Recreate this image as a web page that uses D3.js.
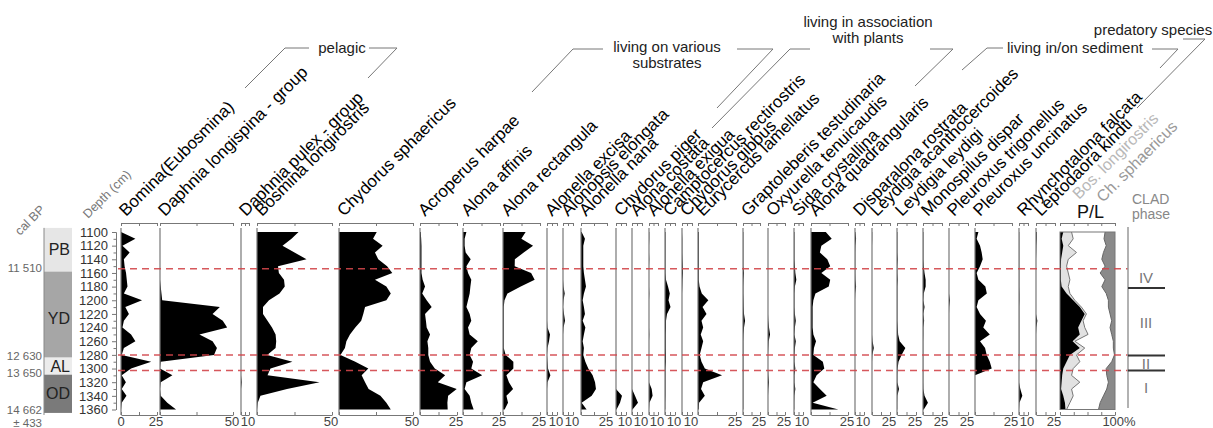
<!DOCTYPE html>
<html>
<head>
<meta charset="utf-8">
<script src="https://cdn.jsdelivr.net/npm/d3@7"></script>
<style>
  body { margin: 0; background: #fff; }
  svg { display: block; font-family: "Liberation Sans", Arial, sans-serif; }
</style>
</head>
<body>
<svg id="chart" width="1213" height="428"></svg>
<script>
// sample depths (cm)
var depths = d3.range(1100, 1361, 10);

var taxa = ['Bomina(Eubosmina)', 'Daphnia longispina - group', 'Daphnia pulex - group', 'Bosmina longirostris',
  'Chydorus sphaericus', 'Acroperus harpae', 'Alona affinis', 'Alona rectangula', 'Alonella excisa',
  'Alonopsis elongata', 'Alonella nana', 'Chydorus piger', 'Alona costata', 'Alonella exigua',
  'Camptocercus rectirostris', 'Chydorus gibbus', 'Eurycercus lamellatus', 'Graptoleberis testudinaria',
  'Oxyurella tenuicaudis', 'Sida crystallina', 'Alona quadrangularis', 'Disparalona rostrata',
  'Leydigia acanthocercoides', 'Leydigia leydigi', 'Monospilus dispar', 'Pleuroxus trigonellus',
  'Pleuroxus uncinatus', 'Rhynchotalona falcata', 'Leptodaora kindti'];

// end value of each panel's axis (%)
var axisMax = [25, 50, 10, 50, 50, 25, 25, 25, 10, 10, 25, 10, 10, 10, 10, 10, 25, 25, 25, 10, 25, 10, 25, 25, 25, 25, 25, 10, 25];

// percentages per depth
var bomina = [0, 10, 1, 6, 2, 2.5, 3.5, 4, 4.5, 2, 14.6, 3, 5.5, 2, 1, 7, 10, 2, 0.5, 21, 7, 0.5, 3.4, 0.5, 3.8, 0.5, 0];
var daphniaLongispina = [0, 0, 0, 0, 0, 0, 0, 0, 0.5, 1, 1.5, 41, 36, 43, 46, 27, 36, 39, 37, 0.5, 0, 8.5, 0.5, 0, 0.5, 5, 11];
var daphniaPulex = [0, 0, 0, 0, 0, 0, 0, 0, 0, 0, 0, 0, 0, 0, 0, 0, 0, 0, 0, 0, 0, 0, 1, 0, 0, 0, 0];
var bosmina = [27.7, 23, 17, 25, 33, 14, 14.6, 18, 18.5, 15, 8, 4, 4, 7, 10, 12.4, 12.8, 12.4, 6.8, 23.6, 9, 7, 41.7, 20, 2.3, 0.5, 0];
var chydorus = [25.5, 23, 29.5, 24.3, 26.5, 32.5, 36, 24.3, 32, 35, 32, 17.6, 16.4, 15, 11, 7.4, 5, 4, 1, 11, 19.8, 15.3, 17.6, 20, 28, 32, 35];
var acroperus = [0.5, 0.8, 1, 1, 1, 1, 1, 1.8, 3.4, 1.5, 4.5, 7.9, 3.4, 4, 4.5, 6.8, 5, 5.6, 5.6, 6.8, 10, 17, 12, 24.8, 19, 18.5, 18.7];
var alonaAffinis = [2.3, 1.1, 1.1, 1.8, 5.2, 2.3, 3.4, 5.6, 5, 4.5, 3.4, 2.3, 4.5, 5.6, 3.4, 4.5, 10, 5.6, 4.5, 6.8, 5.6, 13, 2.3, 1.1, 4.5, 5.6, 7.2];
var alonaRectangula = [15.3, 12.4, 20.3, 14, 8, 7.9, 19, 21.4, 12, 3, 1, 0.5, 0.5, 0.5, 0.5, 0.5, 0.5, 0.5, 1.8, 7, 7, 2.3, 4, 6.8, 2.3, 3.4, 1.1];
var alonellaExcisa = [0, 0, 0, 0, 0, 0, 0, 0, 0, 0, 0, 0, 0, 0, 0.5, 3, 2, 0.5, 0, 0.5, 1, 3.4, 0.5, 0, 0, 0, 0];
var alonopsis = [0, 0, 0, 0, 0, 0, 0, 0, 0.5, 1.7, 0.5, 0, 1, 2, 0.5, 0, 0, 0, 0, 0, 0, 0, 0, 0, 0, 0, 0];
var alonellaNana = [0.6, 3.8, 2.2, 2.2, 2.2, 2.2, 2.8, 3.8, 4.8, 2.8, 1.6, 2.8, 3.8, 1.6, 4.2, 2.8, 1.6, 2.8, 2.2, 4.2, 7, 11.2, 13.5, 14.4, 10.3, 0.6, 5.4];
var chydorusPiger = [0, 0, 0, 0, 0, 0, 0, 0, 0, 0, 0, 0, 0, 0, 0, 0, 0, 0, 0, 0, 0, 0, 0, 0, 6, 4, 0.5];
var alonaCostata = [0, 0, 0, 0, 0, 0, 0, 0, 0, 0, 0, 0, 0, 0, 0, 0, 0, 0, 0, 0, 0, 0, 0, 0, 3, 6, 0.5];
var alonellaExigua = [0.3, 0.3, 0, 0, 0.3, 0, 0, 0, 0, 0.3, 0, 0, 0, 0, 0, 0.3, 0, 0, 0, 0, 0, 0, 0, 3, 4, 0.5, 0];
var camptocercus = [0.5, 0.5, 0.5, 0.5, 0.5, 0.5, 0.5, 1, 3, 4.8, 3.5, 5.5, 2, 1, 1, 0.8, 0.8, 0.8, 1, 1, 0.5, 0.5, 0.5, 0.5, 0.5, 0.3, 0.3];
var chydorusGibbus = [0, 0.3, 0.3, 0.3, 0.5, 0.8, 1, 0.5, 0.3, 0, 0, 0, 0, 0, 0, 0, 0, 0, 0, 0, 0, 0, 0, 0, 0, 0, 0];
var eurycercus = [0.5, 0.5, 0.5, 0.5, 0.5, 0.5, 0.5, 0.5, 1, 2.5, 6.8, 3, 5.6, 2.3, 3.4, 1.8, 3.4, 2.3, 1.1, 2.3, 4.5, 15.8, 3.4, 2, 4.5, 0.7, 0.5];
var graptoleberis = [0.5, 0.5, 0.5, 0.5, 0.5, 0.5, 1.5, 0.8, 0.5, 0.5, 0.8, 1, 1.5, 3, 1.5, 0.8, 0.5, 0.5, 0.5, 0.5, 0.5, 0.5, 0.5, 0.5, 0.5, 0.5, 0.5];
var oxyurella = [0, 0, 0, 0, 0, 0, 0, 0, 0, 0, 0, 0, 0, 0.5, 1.5, 3, 1, 0.5, 0, 0, 0, 0.5, 1.5, 0.5, 0, 0, 0];
var sida = [0.5, 0.5, 0.5, 0.5, 0.5, 1, 1.5, 2.6, 1, 0.5, 0.5, 0.5, 1, 2, 1, 0.5, 2, 1, 0.5, 0.5, 1.5, 0.5, 0.5, 1.5, 0.5, 0.3, 0.3];
var alonaQuadrangularis = [10, 14, 7, 6, 11, 13, 7, 13, 12, 3, 1.6, 1.1, 1.1, 1.1, 1.1, 1.6, 3.4, 2, 1.6, 8, 9, 3.8, 1.6, 6, 10.6, 1.1, 18.5];
var disparalona = [0.5, 1.2, 0.5, 0.3, 0.3, 0.3, 0.3, 0.5, 1.2, 0.3, 0, 0, 0, 0, 0, 0, 0, 0, 0, 0, 0, 0, 0, 0, 0, 0, 0];
var leydigiaAcanth = [0.3, 0.3, 0, 0, 0, 0, 0, 0, 0, 0, 0, 0, 0, 0, 0, 0, 0.8, 2.5, 0.5, 0, 0, 0, 0, 0, 0, 0, 0];
var leydigiaLeydigi = [0.5, 0.5, 0.5, 0.5, 1, 0.5, 0.5, 1, 0.5, 0.5, 0.5, 0.5, 0.5, 0.5, 1, 1.5, 3.5, 11, 6, 2, 0.8, 0.5, 0.5, 2.6, 0.5, 0.3, 0.3];
var monospilus = [0.5, 0.5, 0.5, 0.5, 0.5, 1, 2, 3.5, 3.5, 1, 0.5, 2, 0.5, 1.5, 0.5, 0.5, 0.3, 0.3, 0.3, 0.3, 0.3, 0.3, 0.3, 0.5, 2, 6.5, 1];
var pleuroxusTrig = [0, 0, 0, 0, 0, 0, 0, 0, 0, 0, 1.3, 0.3, 0, 0, 0, 0, 0, 0, 0, 0, 0, 0, 0, 0, 0, 0, 0];
var pleuroxusUnc = [2.3, 1.1, 3.4, 4.5, 5.2, 3.4, 1.1, 2.3, 7, 8, 2.3, 1.1, 3.4, 7.4, 5.6, 10, 3.4, 6.8, 7.9, 10, 11.3, 0, 0, 0, 0, 0, 0];
var rhynchotalona = [0.3, 0.3, 0.3, 0.3, 0.3, 0.3, 0.3, 0.3, 0.3, 0.5, 0.5, 0.3, 0.3, 0.3, 0.3, 0.3, 0.3, 0.3, 0.3, 0, 0, 0, 0, 1.5, 3.7, 0.5, 0];
var leptodaora = [1, 1, 0.5, 0.3, 0, 0, 0, 0, 0, 0, 0, 0, 0, 1.8, 0.5, 0, 0, 0, 0, 0, 0, 0, 0, 0, 0, 0, 0];

var series = [bomina, daphniaLongispina, daphniaPulex, bosmina, chydorus, acroperus, alonaAffinis,
  alonaRectangula, alonellaExcisa, alonopsis, alonellaNana, chydorusPiger, alonaCostata, alonellaExigua,
  camptocercus, chydorusGibbus, eurycercus, graptoleberis, oxyurella, sida, alonaQuadrangularis,
  disparalona, leydigiaAcanth, leydigiaLeydigi, monospilus, pleuroxusTrig, pleuroxusUnc, rhynchotalona, leptodaora];

// P/L summary (%): pelagic (black), Bos. longirostris (light grey), Ch. sphaericus (dark grey, from right)
var plPelagic = [6, 3, 6, 4, 2, 1.5, 1.5, 1.5, 3, 12, 24, 36, 45, 39, 33, 36, 23, 36, 18, 12, 6, 4, 3, 2, 6, 9, 10];
var plBosmina = [15, 21, 9, 26, 13, 10.5, 13.5, 16.5, 12, 6, 3, 3, 3, 3, 12, 15, 4, 9, 12, 24, 18, 17, 33, 19, 18, 9, 2];
var plChydorus = [18, 20, 16, 21, 24, 18, 27, 18, 24, 16, 12, 12, 9, 6, 9, 6, 3, 3, 1, 6, 16, 15, 12, 15, 21, 27, 30];

// lithozones (depth cm)
var zoneNames = ['PB', 'YD', 'AL', 'OD'];
var zoneTop = [1094, 1158, 1284, 1309];
var zoneBottom = [1158, 1284, 1309, 1365];
var zoneFill = ['#e6e6e6', '#a6a6a6', '#ececec', '#7a7a7a'];
var calAges = ['11 510', '12 630', '13 650', '14 662'];
var calDepths = [1153, 1281, 1307, 1360];
var boundaryDepths = [1154, 1280, 1303];
var cladBounds = [1182, 1281, 1303];
var cladNames = ['IV', 'III', 'II', 'I'];
var cladDepths = [1166, 1233, 1292, 1328];

// layout of the panels (baseline x and width in px)
var panelX = [121, 160, 241, 257, 339, 420, 463, 503, 547, 563, 581, 616, 632, 649, 665, 682, 698, 743, 768, 794, 811, 855, 872, 897, 923, 949, 975, 1019, 1036];
var panelW = [36, 73, 8, 75, 74, 37, 37, 37, 10, 10, 26, 10, 10, 9, 10, 10, 38, 17, 17, 9, 37, 9, 18, 19, 19, 19, 37, 9, 19];

var svg = d3.select('#chart');
var y = d3.scaleLinear().domain([1100, 1360]).range([232, 409.5]);
var axisTopY = 223, axisBottomY = 415;

function greyAxis(sel) {
  sel.selectAll('path, line').attr('stroke', '#777').attr('stroke-width', 1);
}

// lithology column
var litho = svg.append('g');
zoneNames.forEach(function (z, i) {
  litho.append('rect')
      .attr('x', 44).attr('width', 28)
      .attr('y', y(zoneTop[i])).attr('height', y(zoneBottom[i]) - y(zoneTop[i]))
      .attr('fill', zoneFill[i]);
  litho.append('text')
      .attr('x', 70).attr('y', y((zoneTop[i] + zoneBottom[i]) / 2) + (z === 'YD' ? 4 : 0))
      .attr('text-anchor', 'end').attr('dominant-baseline', 'central')
      .attr('font-size', 16).attr('fill', '#222').text(z);
});
litho.append('line').attr('x1', 44).attr('x2', 44).attr('y1', y(1094)).attr('y2', axisBottomY)
    .attr('stroke', '#888');
calAges.forEach(function (c, i) {
  litho.append('text').attr('x', 42).attr('y', y(calDepths[i]))
      .attr('text-anchor', 'end').attr('dominant-baseline', 'central')
      .attr('font-size', 11.5).attr('fill', '#666').text(c);
});
litho.append('text').attr('x', 42).attr('y', y(calDepths[3]) + 13)
    .attr('text-anchor', 'end').attr('dominant-baseline', 'central')
    .attr('font-size', 11.5).attr('fill', '#666').text('± 433');
svg.append('text').attr('transform', 'translate(20,236) rotate(-45)')
    .attr('font-size', 12.5).attr('fill', '#777').text('cal BP');
svg.append('text').attr('transform', 'translate(88,219) rotate(-45)')
    .attr('font-size', 12.5).attr('fill', '#777').text('Depth (cm)');

// depth axis
var depthAxis = svg.append('g').attr('transform', 'translate(116,0)')
    .call(d3.axisLeft(y).tickValues(d3.range(1100, 1361, 20)).tickSize(4).tickSizeOuter(0).tickPadding(4).tickFormat(d3.format('d')));
depthAxis.call(greyAxis);
depthAxis.selectAll('text').attr('font-size', 13).attr('fill', '#333')
    .attr('font-family', '"Liberation Sans", Arial, sans-serif');
svg.append('g').attr('transform', 'translate(116,0)')
    .call(d3.axisLeft(y).tickValues(d3.range(1110, 1361, 20)).tickSize(2.5).tickSizeOuter(0).tickFormat(''))
    .call(greyAxis);

// taxon panels
series.forEach(function (vals, i) {
  var x = d3.scaleLinear().domain([0, axisMax[i]]).range([panelX[i], panelX[i] + panelW[i]]);
  var g = svg.append('g').attr('class', 'panel');
  var pts = depths.map(function (d, j) { return {depth: d, v: vals[j]}; });
  g.append('path').datum(pts)
      .attr('d', d3.area()
        .y(function (p) { return y(p.depth); })
        .x0(x(0))
        .x1(function (p) { return x(p.v); }))
      .attr('fill', '#000');
  g.append('line')
      .attr('x1', x(0)).attr('x2', x(0)).attr('y1', 228).attr('y2', axisBottomY)
      .attr('stroke', '#777').attr('stroke-width', 1.2);
  var ticks = [0, axisMax[i] / 2, axisMax[i]];
  g.append('g').attr('transform', 'translate(0,' + axisTopY + ')')
      .call(d3.axisBottom(x).tickValues(ticks).tickSize(3).tickSizeOuter(0).tickFormat(''))
      .call(greyAxis);
  g.append('g').attr('transform', 'translate(0,' + axisBottomY + ')')
      .call(d3.axisTop(x).tickValues(ticks).tickSize(3).tickSizeOuter(0).tickFormat(''))
      .call(greyAxis);
  g.append('text').attr('x', x(axisMax[i]) - 1).attr('y', 426)
      .attr('text-anchor', 'middle').attr('font-size', 13).attr('fill', '#444')
      .text(axisMax[i]);
  if (i === 0) {
    g.append('text').attr('x', x(0)).attr('y', 426)
        .attr('text-anchor', 'middle').attr('font-size', 13).attr('fill', '#444').text('0');
  }
  g.append('text')
      .attr('transform', 'translate(' + (x(0) + 5) + ',217) rotate(-45)')
      .attr('font-size', 17).attr('fill', '#000')
      .text(taxa[i]);
});

// P/L cumulative panel
var xp = d3.scaleLinear().domain([0, 100]).range([1060, 1115]);
var pl = depths.map(function (d, j) {
  return {depth: d, pel: plPelagic[j], bos: plPelagic[j] + plBosmina[j], ch: 100 - plChydorus[j]};
});
var plg = svg.append('g');
plg.append('path').datum(pl)
    .attr('d', d3.area().y(function (p) { return y(p.depth); })
      .x0(function (p) { return xp(p.pel); }).x1(function (p) { return xp(p.bos); }))
    .attr('fill', '#e2e2e2');
plg.append('path').datum(pl)
    .attr('d', d3.area().y(function (p) { return y(p.depth); })
      .x0(xp(0)).x1(function (p) { return xp(p.pel); }))
    .attr('fill', '#000');
plg.append('path').datum(pl)
    .attr('d', d3.area().y(function (p) { return y(p.depth); })
      .x0(function (p) { return xp(p.ch); }).x1(xp(100)))
    .attr('fill', '#8a8a8a');
plg.append('path').datum(pl)
    .attr('d', d3.line().y(function (p) { return y(p.depth); }).x(function (p) { return xp(p.bos); }))
    .attr('fill', 'none').attr('stroke', '#777').attr('stroke-width', 1);
plg.append('path').datum(pl)
    .attr('d', d3.line().y(function (p) { return y(p.depth); }).x(function (p) { return xp(p.ch); }))
    .attr('fill', 'none').attr('stroke', '#666').attr('stroke-width', 1);
plg.append('rect').attr('x', xp(0)).attr('y', y(1100)).attr('width', xp(100) - xp(0))
    .attr('height', y(1360) - y(1100)).attr('fill', 'none').attr('stroke', '#777');
plg.append('g').attr('transform', 'translate(0,' + axisTopY + ')')
    .call(d3.axisBottom(xp).tickValues([0, 25, 50, 75, 100]).tickSize(3).tickSizeOuter(0).tickFormat(''))
    .call(greyAxis);
plg.append('g').attr('transform', 'translate(0,' + axisBottomY + ')')
    .call(d3.axisTop(xp).tickValues([0, 25, 50, 75, 100]).tickSize(3).tickSizeOuter(0).tickFormat(''))
    .call(greyAxis);
plg.append('text').attr('x', xp(100) + 4).attr('y', 426).attr('text-anchor', 'middle')
    .attr('font-size', 13).attr('fill', '#444').text('100%');
plg.append('text').attr('x', 1077).attr('y', 218).attr('font-size', 18).attr('fill', '#111').text('P/L');
plg.append('text').attr('transform', 'translate(1079,200) rotate(-45)')
    .attr('font-size', 16).attr('fill', '#b8b8b8').text('Bos. longirostris');
plg.append('text').attr('transform', 'translate(1103,203) rotate(-45)')
    .attr('font-size', 16).attr('fill', '#999').text('Ch. sphaericus');

// zone boundaries
svg.append('g').selectAll('line').data(boundaryDepths).join('line')
    .attr('x1', 118).attr('x2', 1128)
    .attr('y1', function (d) { return y(d); }).attr('y2', function (d) { return y(d); })
    .attr('stroke', '#d2464b').attr('stroke-width', 1.5).attr('stroke-dasharray', '7,5')
    .attr('opacity', 0.9);

// CLAD phases
var clad = svg.append('g');
clad.append('line').attr('x1', 1128).attr('x2', 1128).attr('y1', 227).attr('y2', 408)
    .attr('stroke', '#999').attr('stroke-width', 1.5);
clad.selectAll('line.b').data(cladBounds).join('line').attr('class', 'b')
    .attr('x1', 1128).attr('x2', 1165)
    .attr('y1', function (d) { return y(d); }).attr('y2', function (d) { return y(d); })
    .attr('stroke', '#333').attr('stroke-width', 2);
clad.selectAll('text.p').data(cladNames).join('text').attr('class', 'p')
    .attr('x', 1146).attr('y', function (d, i) { return y(cladDepths[i]); })
    .attr('text-anchor', 'middle').attr('dominant-baseline', 'central')
    .attr('font-size', 15).attr('fill', '#777').text(function (d) { return d; });
clad.append('text').attr('x', 1132).attr('y', 204).attr('font-size', 14).attr('fill', '#888').text('CLAD');
clad.append('text').attr('x', 1132).attr('y', 219).attr('font-size', 14).attr('fill', '#888').text('phase');

// ecological group headers
var groups = svg.append('g').attr('fill', 'none').attr('stroke', '#777').attr('stroke-width', 1);
[
  'M245,88L285,48L309,48', 'M369,48L397,48L368,78',
  'M532,92L573,49L603,49', 'M737,49L773,49L717,108',
  'M810,49L790,49L712,128', 'M930,49L953,49L915,86',
  'M962,70L987,48L1003,48', 'M1152,49L1178,49L1160,68',
  'M1183,39L1205,39L1137,108'
].forEach(function (p) { groups.append('path').attr('d', p); });
var headerText = [
  ['pelagic', 342, 53], ['living on various', 667, 52], ['substrates', 667, 68],
  ['living in association', 868, 27], ['with plants', 868, 43],
  ['living in/on sediment', 1075, 53], ['predatory species', 1153, 35]
];
headerText.forEach(function (h) {
  svg.append('text').attr('x', h[1]).attr('y', h[2]).attr('text-anchor', 'middle')
      .attr('font-size', 15).attr('fill', '#222').text(h[0]);
});
</script>
</body>
</html>
